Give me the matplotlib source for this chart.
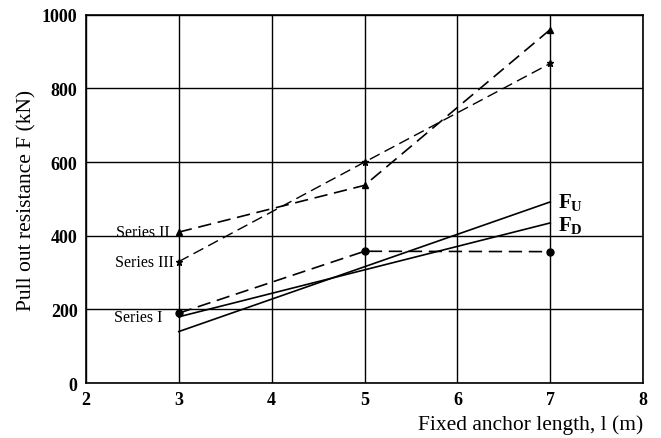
import matplotlib
matplotlib.use("Agg")
import matplotlib.pyplot as plt

lengths = [3, 5, 7]
series_I = [190, 358, 357]
series_II = [410, 537, 960]
series_III = [330, 600, 868]
fu_x = [3, 7]
fu_y = [140, 492]
fd_x = [3, 7]
fd_y = [180, 435]
xticks = [2, 3, 4, 5, 6, 7, 8]
yticks = [0, 200, 400, 600, 800, 1000]

plt.rcParams['font.family'] = ['Liberation Serif', 'DejaVu Serif']

fig = plt.figure(figsize=(6.61, 4.39), dpi=100)
ax = fig.add_axes([0.130, 0.125, 0.843, 0.839])
ax.set_xlim(2, 8)
ax.set_ylim(0, 1000)
ax.set_xticks(xticks)
ax.set_yticks(yticks)
ax.grid(True, color='black', linewidth=1.0)
ax.set_axisbelow(True)
ax.tick_params(length=0, labelsize=13, pad=6)
for lbl in ax.get_xticklabels() + ax.get_yticklabels():
    lbl.set_fontweight('bold')
for s in ax.spines.values():
    s.set_linewidth(1.2)

ax.plot(lengths, series_II, color='black', linestyle=(0, (8, 4)), linewidth=1.2,
        marker='^', markersize=5)
ax.plot(lengths, series_III, color='black', linestyle=(0, (8, 4)), linewidth=1.0,
        marker='*', markersize=5)
ax.plot(lengths, series_I, color='black', linestyle=(0, (8, 4)), linewidth=1.2,
        marker='o', markersize=5)
ax.plot(fu_x, fu_y, color='black', linewidth=1.2)
ax.plot(fd_x, fd_y, color='black', linewidth=1.2)

ax.text(2.9, series_II[0], 'Series II', ha='right', va='center', fontsize=11.5)
ax.text(2.95, series_III[0], 'Series III', ha='right', va='center', fontsize=11.5)
ax.text(2.3, 180, 'Series I', ha='left', va='center', fontsize=11.5)
ax.text(7.08, fu_y[1], r'F$_\mathregular{U}$', ha='left', va='center',
        fontsize=15, fontweight='bold')
ax.text(7.08, fd_y[1] - 5, r'F$_\mathregular{D}$', ha='left', va='center',
        fontsize=15, fontweight='bold')

ax.set_ylabel('Pull out resistance F (kN)', fontsize=15.5)
fig.text(0.973, 0.032, 'Fixed anchor length, l (m)', ha='right', va='center', fontsize=15.5)

fig.savefig('out.png', dpi=100)
